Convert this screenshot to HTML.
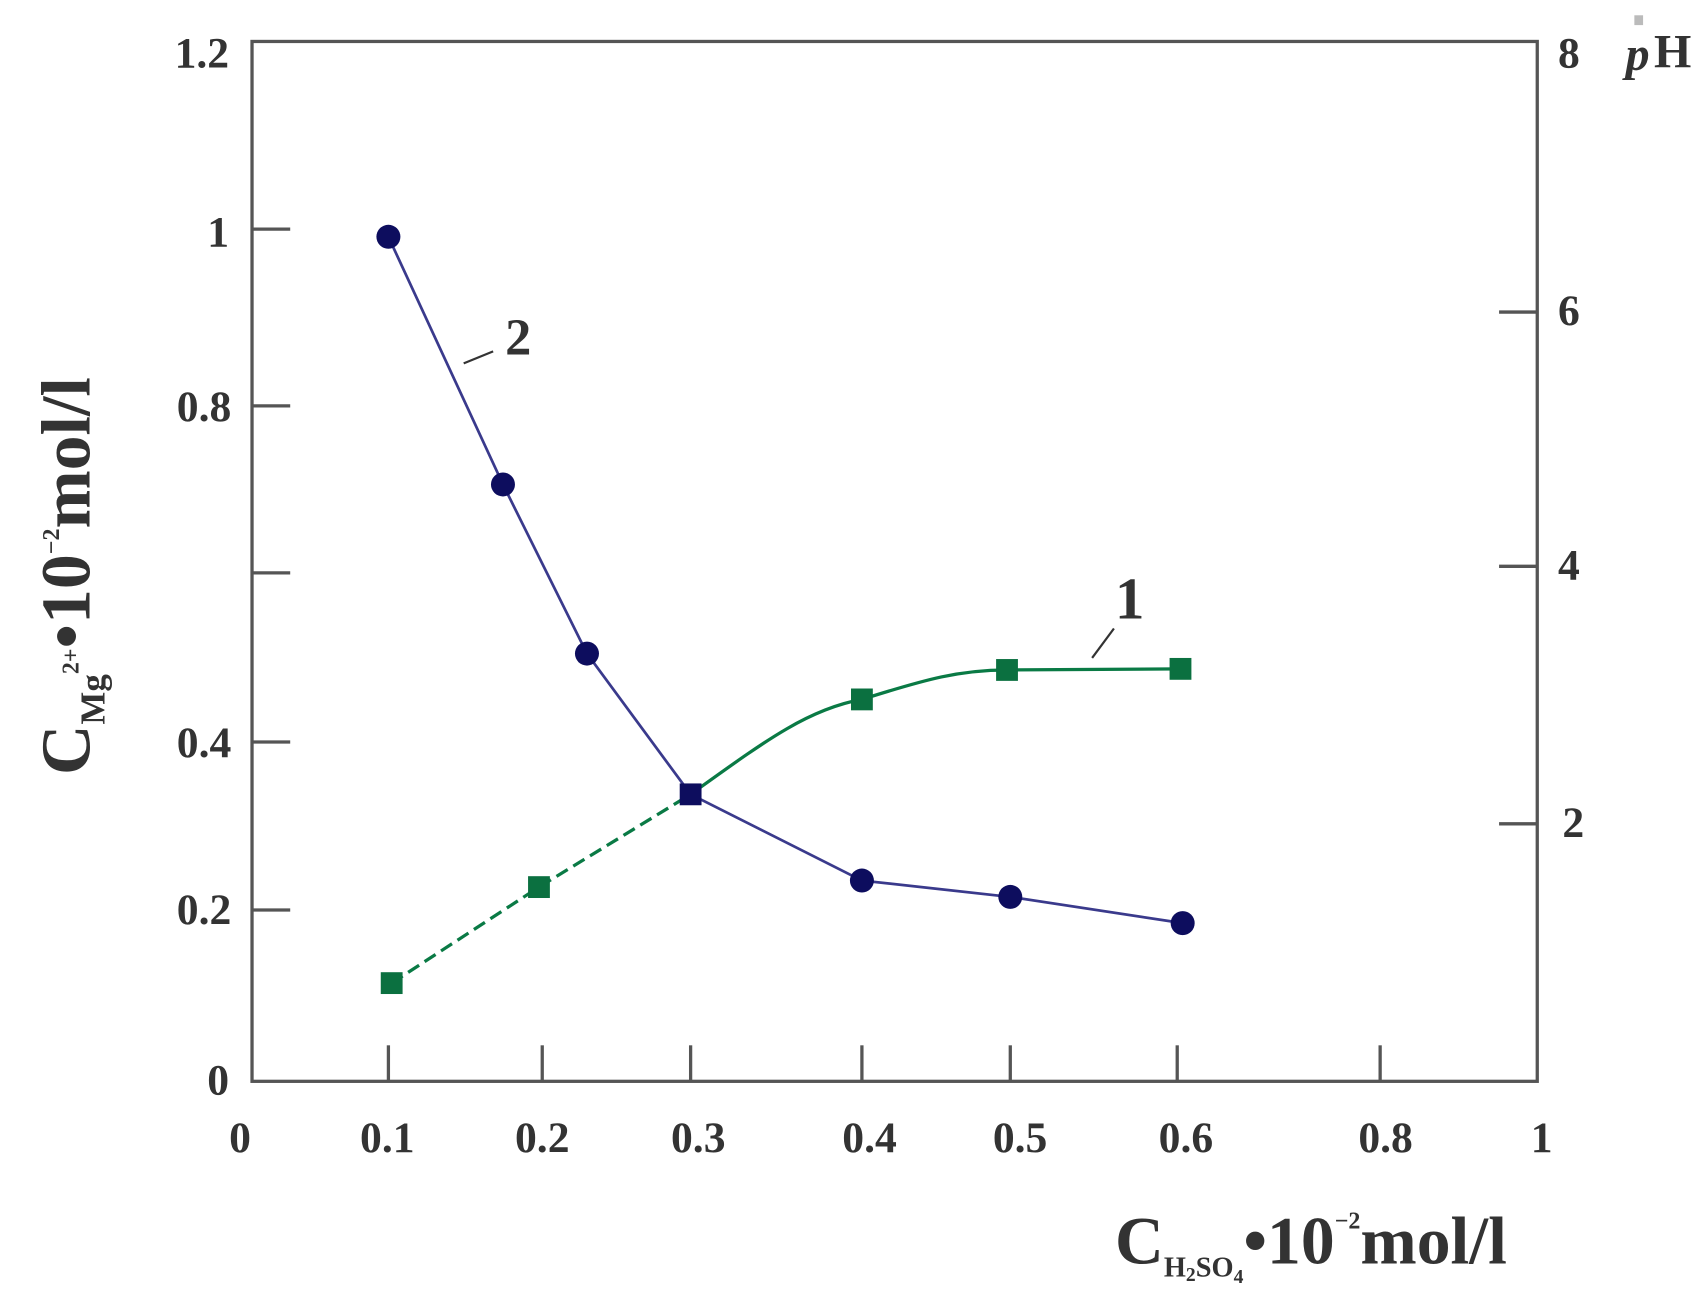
<!DOCTYPE html>
<html><head><meta charset="utf-8"><style>
html,body{margin:0;padding:0;background:#fff;}
svg{display:block;}
text{font-family:"Liberation Serif",serif;font-weight:bold;fill:#333;}
</style></head><body>
<svg width="1702" height="1293" viewBox="0 0 1560 1185" preserveAspectRatio="none">
<rect x="0" y="0" width="1560" height="1185" fill="#fff"/>
<g stroke="#555" stroke-width="3" fill="none">
<rect x="231" y="38" width="1178" height="953"/>
<line x1="231" y1="210" x2="266" y2="210"/>
<line x1="231" y1="372" x2="266" y2="372"/>
<line x1="231" y1="525" x2="266" y2="525"/>
<line x1="231" y1="680" x2="266" y2="680"/>
<line x1="231" y1="834" x2="266" y2="834"/>
<line x1="1409" y1="286" x2="1374" y2="286"/>
<line x1="1409" y1="519" x2="1374" y2="519"/>
<line x1="1409" y1="755" x2="1374" y2="755"/>
<line x1="356" y1="991" x2="356" y2="958"/>
<line x1="497" y1="991" x2="497" y2="958"/>
<line x1="633" y1="991" x2="633" y2="958"/>
<line x1="790" y1="991" x2="790" y2="958"/>
<line x1="926" y1="991" x2="926" y2="958"/>
<line x1="1079" y1="991" x2="1079" y2="958"/>
<line x1="1265" y1="991" x2="1265" y2="958"/>
</g>
<g font-size="40" text-anchor="end">
<text x="210" y="62">1.2</text>
<text x="210" y="226">1</text>
<text x="212" y="386">0.8</text>
<text x="212" y="694">0.4</text>
<text x="212" y="847">0.2</text>
<text x="210" y="1003">0</text>
</g>
<g font-size="40" text-anchor="start">
<text x="1428" y="62">8</text>
<text x="1428" y="298">6</text>
<text x="1428" y="531">4</text>
<text x="1432" y="767">2</text>
</g>
<text x="1490" y="64" font-size="44" font-style="italic" font-weight="normal">p</text>
<text x="1516" y="62" font-size="44" font-weight="normal">H</text>
<rect x="1498" y="14" width="8" height="9" fill="#bbb"/>
<g font-size="40" text-anchor="middle">
<text x="220" y="1056">0</text>
<text x="355" y="1056">0.1</text>
<text x="497" y="1056">0.2</text>
<text x="640" y="1056">0.3</text>
<text x="797" y="1056">0.4</text>
<text x="935" y="1056">0.5</text>
<text x="1087" y="1056">0.6</text>
<text x="1270" y="1056">0.8</text>
<text x="1413" y="1056">1</text>
</g>
<polyline points="359,901 494,813 633,728" stroke="#0a7a45" stroke-width="3" fill="none" stroke-dasharray="12,6"/>
<path d="M633,728 C700,680 740,650 790,641 C850,622 880,614 923,614 L1082,613" stroke="#0a7a45" stroke-width="3" fill="none"/>
<polyline points="356,217 461,444 538,599 633,728 790,807 926,822 1084,846" stroke="#3a3a8c" stroke-width="2.5" fill="none"/>
<g fill="#0b7040">
<rect x="349" y="891" width="20" height="20"/>
<rect x="484" y="803" width="20" height="20"/>
<rect x="780" y="631" width="20" height="20"/>
<rect x="913" y="604" width="20" height="20"/>
<rect x="1072" y="603" width="20" height="20"/>
</g>
<g fill="#0d0d5e">
<circle cx="356" cy="217" r="11"/>
<circle cx="461" cy="444" r="11"/>
<circle cx="538" cy="599" r="11"/>
<rect x="623" y="718" width="20" height="20"/>
<circle cx="790" cy="807" r="11"/>
<circle cx="926" cy="822" r="11"/>
<circle cx="1084" cy="846" r="11"/>
</g>
<line x1="425" y1="333" x2="452" y2="322" stroke="#333" stroke-width="2"/>
<text x="463" y="325" font-size="48">2</text>
<line x1="1001" y1="603" x2="1021" y2="576" stroke="#333" stroke-width="2"/>
<text x="1022" y="567" font-size="54">1</text>
<g transform="translate(82,528) rotate(-90)">
<text x="0" y="0" text-anchor="middle" font-size="64"><tspan>C</tspan><tspan font-size="32" dy="14">Mg</tspan><tspan font-size="22" dy="-24">2+</tspan><tspan dy="10">•10</tspan><tspan font-size="22" dy="-28">−2</tspan><tspan dy="28">mol/l</tspan></text>
</g>
<text x="1022" y="1158" font-size="62"><tspan>C</tspan><tspan font-size="26" dy="12">H</tspan><tspan font-size="18" dy="4">2</tspan><tspan font-size="26" dy="-4">SO</tspan><tspan font-size="18" dy="6">4</tspan><tspan dy="-18">•10</tspan><tspan font-size="22" dy="-32">−2</tspan><tspan dy="32">mol/l</tspan></text>
</svg>
</body></html>
